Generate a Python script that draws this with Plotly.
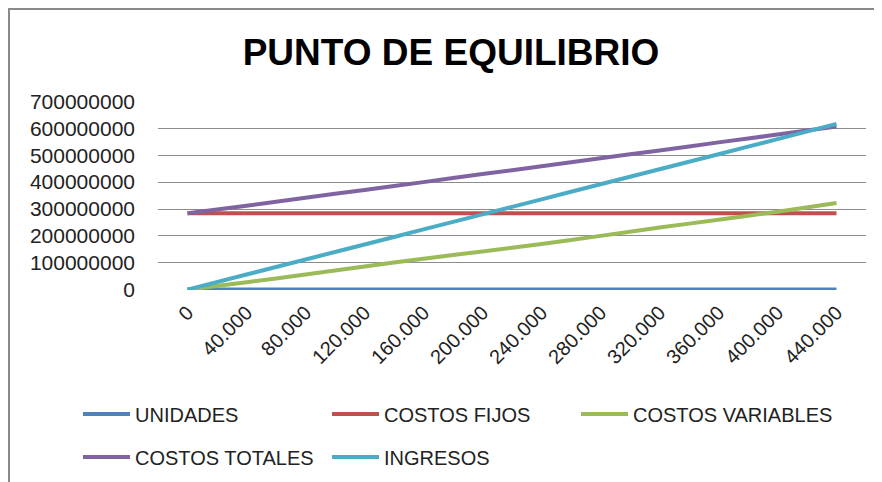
import plotly.graph_objects as go

# categorias (unidades) y series
categorias = ['0', '40.000', '80.000', '120.000', '160.000', '200.000',
              '240.000', '280.000', '320.000', '360.000', '400.000', '440.000']
unidades = [0, 40000, 80000, 120000, 160000, 200000,
            240000, 280000, 320000, 360000, 400000, 440000]
costos_fijos = [284e6] * 12
costos_variables = [0, 27e6, 56e6, 86e6, 115e6, 142e6,
                    170e6, 200e6, 231e6, 260e6, 290e6, 322e6]
costos_totales = [284e6, 312e6, 342e6, 371e6, 400e6, 430e6,
                  459e6, 489e6, 518e6, 548e6, 577e6, 607e6]
ingresos = [0, 56e6, 112e6, 168e6, 224e6, 280e6,
            336e6, 392e6, 448e6, 504e6, 560e6, 617e6]

nombres = ['UNIDADES', 'COSTOS FIJOS', 'COSTOS VARIABLES', 'COSTOS TOTALES', 'INGRESOS']
valores = [unidades, costos_fijos, costos_variables, costos_totales, ingresos]
colores = ['#4F81BD', '#C0504D', '#9BBB59', '#8064A2', '#4BACC6']

FONT = 'Liberation Sans, Arial, sans-serif'

W, H = 882, 482
OFF = 8  # margen por defecto del <body> en la pagina
# area de trazado en pixeles de pantalla: x 158..866, y 101..290
L, R, T, B = 158 - OFF, W - (866 - OFF), 101 - OFF, H - (290 - OFF)
pw, ph = W - L - R, H - T - B

def px_x(p):
    return (p - OFF - L) / pw

def px_y(p):
    return (H - B - (p - OFF)) / ph

# posicion (px pantalla) de cada entrada de leyenda, 3 columnas x 2 filas
leg_pos = [(78, 414), (327, 414), (576, 414), (78, 457), (327, 457)]

fig = go.Figure()
layout_legends = {}
for i, (name, vals, col) in enumerate(zip(nombres, valores, colores)):
    key = 'legend' if i == 0 else 'legend%d' % (i + 1)
    fig.add_trace(go.Scatter(x=categorias, y=vals, name=name, mode='lines',
                             line=dict(color=col, width=4, shape='spline', smoothing=0.4),
                             legend=key))
    lx, ly = leg_pos[i]
    layout_legends[key] = dict(x=px_x(lx), y=px_y(ly), xanchor='left', yanchor='middle',
                               orientation='h', itemwidth=47,
                               font=dict(family=FONT, size=20, color='#222'),
                               bgcolor='rgba(0,0,0,0)')

fig.update_layout(
    width=W, height=H,
    margin=dict(l=L, r=R, t=T, b=B, autoexpand=False),
    paper_bgcolor='white', plot_bgcolor='white',
    title=dict(text='<b>PUNTO DE EQUILIBRIO</b>', xref='paper', x=px_x(451), xanchor='center',
               yref='container', y=1 - (52 - OFF) / H, yanchor='middle',
               font=dict(family=FONT, size=37, color='black')),
    xaxis=dict(type='category', range=[-0.5, 11.5], tickangle=-45,
               showgrid=False, showline=False, zeroline=False, ticks='',
               ticklabelstandoff=6,
               tickfont=dict(family=FONT, size=20, color='#222')),
    yaxis=dict(range=[-1.5e6, 702e6], tickvals=[i * 100e6 for i in range(8)], tickformat='d',
               showgrid=True, gridcolor='#8C8C8C', gridwidth=1,
               zeroline=False, showline=False, ticks='',
               ticklabelstandoff=22,
               tickfont=dict(family=FONT, size=21, color='#222')),
    showlegend=True,
    **layout_legends,
)

# marco del grafico (borde gris arriba e izquierda, lo mas cerca posible del borde)
fig.add_shape(type='rect', xref='paper', yref='paper',
              x0=px_x(OFF + 1), x1=px_x(W + 40), y0=px_y(H + 40), y1=px_y(OFF + 1),
              line=dict(color='#8A8A8A', width=2), layer='below')

fig.write_html('out.html')
